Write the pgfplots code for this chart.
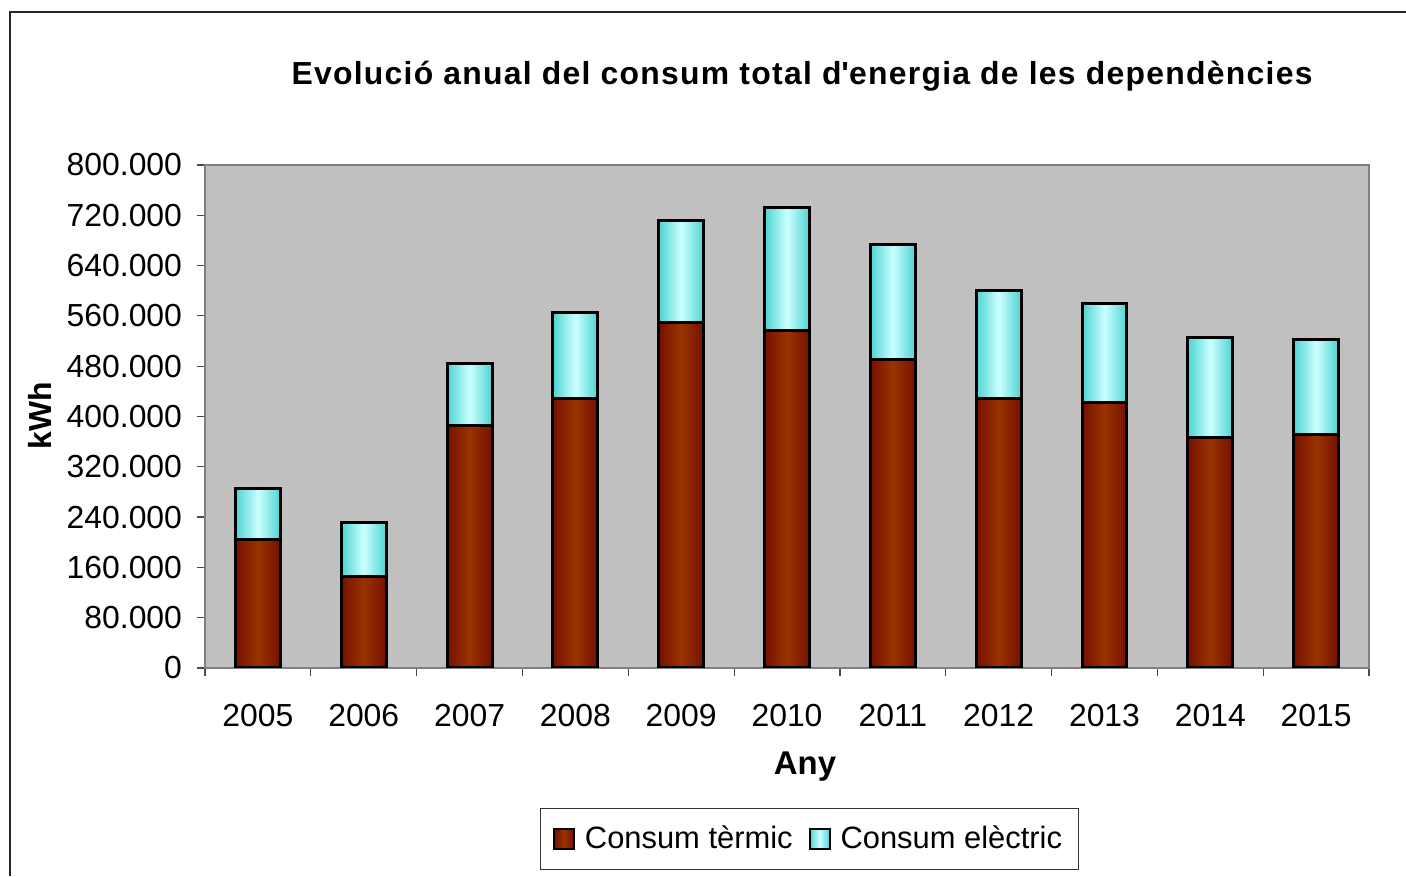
\documentclass[border=0pt]{standalone}
\usepackage{fontspec}
\setmainfont{Liberation Sans}
\newfontfamily\titlefont[LetterSpace=4]{Liberation Sans}
\usepackage{pgfplots}
\pgfplotsset{compat=1.18}
\definecolor{brownA}{HTML}{993300}
\definecolor{brownE}{HTML}{761000}
\definecolor{cyanA}{HTML}{CCFFFF}
\definecolor{cyanE}{HTML}{4DD3D3}
\definecolor{plotbg}{HTML}{C0C0C0}
\pgfplotsset{
  brownbar/.style={draw=black, line width=1.5bp, left color=brownE, right color=brownE, middle color=brownA},
  cyanbar/.style={draw=black, line width=1.5bp, left color=cyanE, right color=cyanE, middle color=cyanA},
}
\begin{document}
\begin{tikzpicture}
\begin{scope}[x=0.5bp,y=0.5bp]
\useasboundingbox (0,0) rectangle (1406,876);
\draw[line width=1bp, black!85] (10,0) -- (10,864) -- (1406,864);
\node[font=\fontsize{16}{19}\selectfont\titlefont\bfseries] at (802,800) {Evolució anual del consum total d\textquotesingle energia de les dependències};
\node[font=\fontsize{16}{18}\selectfont\bfseries, rotate=90] at (40,460) {kWh};
\node[font=\fontsize{16.5}{18}\selectfont\bfseries] at (805,109) {Any};
\end{scope}
\begin{axis}[
  at={(102.5bp,104bp)}, anchor=south west,
  scale only axis, width=582bp, height=251.5bp,
  ybar, bar width=0.425, bar shift=0pt,
  xmin=-0.5, xmax=10.5, ymin=0, ymax=800000,
  xtick={0,...,10},
  xticklabels={2005,2006,2007,2008,2009,2010,2011,2012,2013,2014,2015},
  minor xtick={-0.5,0.5,...,10.5},
  ytick={0,80000,...,800000},
  major x tick style={draw=none},
  tick align=outside, tick pos=left,
  minor tick length=4bp, major tick length=4bp,
  tick style={black!70, line width=0.6bp},
  axis background/.style={fill=plotbg},
  axis line style={black!50, line width=0.8bp},
  scaled y ticks=false,
  /pgf/number format/.cd, fixed, 1000 sep={.}, assume math mode=true,
  /pgfplots/.cd,
  ticklabel style={font=\fontsize{16}{18}\selectfont},
  xticklabel style={yshift=-10.5bp},
  yticklabel style={xshift=-4bp},
  legend columns=2,
  legend style={at={(0.5193,-0.34)}, anchor=center, draw=black!80, line width=0.5bp,
    font=\fontsize{15.5}{18}\selectfont, inner xsep=6bp, inner ysep=7bp,
    /tikz/every odd column/.append style={column sep=3bp},
    /tikz/every even column/.append style={column sep=6bp}},
  legend image code/.code={\draw[#1, line width=1bp] (0bp,-5bp) rectangle (10bp,5bp);},
]
\addlegendimage{brownbar}
\addlegendentry{Consum tèrmic}
\addlegendimage{cyanbar}
\addlegendentry{Consum elèctric}
% totals (termic + electric) drawn first, termic on top
\addplot[cyanbar, forget plot] coordinates {(0,286000)};
\addplot[brownbar, forget plot] coordinates {(0,205000)};
\addplot[cyanbar, forget plot] coordinates {(1,231000)};
\addplot[brownbar, forget plot] coordinates {(1,145000)};
\addplot[cyanbar, forget plot] coordinates {(2,484000)};
\addplot[brownbar, forget plot] coordinates {(2,385000)};
\addplot[cyanbar, forget plot] coordinates {(3,565000)};
\addplot[brownbar, forget plot] coordinates {(3,428000)};
\addplot[cyanbar, forget plot] coordinates {(4,711000)};
\addplot[brownbar, forget plot] coordinates {(4,550000)};
\addplot[cyanbar, forget plot] coordinates {(5,733000)};
\addplot[brownbar, forget plot] coordinates {(5,536000)};
\addplot[cyanbar, forget plot] coordinates {(6,673000)};
\addplot[brownbar, forget plot] coordinates {(6,490000)};
\addplot[cyanbar, forget plot] coordinates {(7,601000)};
\addplot[brownbar, forget plot] coordinates {(7,428000)};
\addplot[cyanbar, forget plot] coordinates {(8,579000)};
\addplot[brownbar, forget plot] coordinates {(8,423000)};
\addplot[cyanbar, forget plot] coordinates {(9,526000)};
\addplot[brownbar, forget plot] coordinates {(9,367000)};
\addplot[cyanbar, forget plot] coordinates {(10,522000)};
\addplot[brownbar, forget plot] coordinates {(10,371000)};
\end{axis}
\end{tikzpicture}
\end{document}
